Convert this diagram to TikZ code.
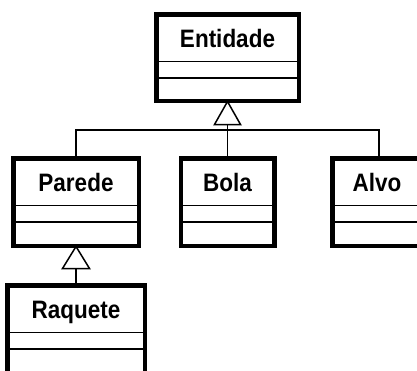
\documentclass[tikz,border=0pt]{standalone}
\usepackage{fontspec}
\setmainfont{Liberation Sans}
\usetikzlibrary{calc}
\newcommand{\cname}[1]{\scalebox{1}[1.12]{#1}}
\begin{document}
\begin{tikzpicture}[x=1pt,y=-1pt,
  classbox/.style={draw=black, line width=3pt, fill=white, rectangle, inner sep=0pt},
  classname/.style={anchor=base, inner sep=0pt, font=\fontsize{22.5}{23}\selectfont\bfseries},
  divider/.style={line width=1.5pt},
  conn/.style={line width=1.5pt},
  gen/.style={line width=1.5pt, fill=white, line join=miter}]
\useasboundingbox (0,0) rectangle (417,370);
\fill[white] (0,0) rectangle (417,370);
\clip (0,0) rectangle (417,370);
% class boxes
\node[classbox, minimum width=141pt, minimum height=85pt] (E) at (227.5,57.5) {};
\node[classname] (Et) at ($(E.north)+(0,34)$) {\cname{Entidade}};
\node[classbox, minimum width=124pt, minimum height=86pt] (P) at (76,202) {};
\node[classname] (Pt) at ($(P.north)+(0,34)$) {\cname{Parede}};
\node[classbox, minimum width=92pt, minimum height=86pt] (B) at (227.5,202) {};
\node[classname] (Bt) at ($(B.north)+(0,34)$) {\cname{Bola}};
\node[classbox, minimum width=92pt, minimum height=86pt] (A) at (379,202) {};
\node[classname] (At) at ($(A.north)+(-2,34)$) {\cname{Alvo}};
\node[classbox, minimum width=136pt, minimum height=86pt] (R) at (76,329) {};
\node[classname] (Rt) at ($(R.north)+(0,34)$) {\cname{Raquete}};
% compartment dividers
\foreach \n/\a/\b in {E/48/64.5, P/48/64.5, B/48/64.5, A/48/64.5, R/48/64.5}{
  \draw[divider] ($(\n.north west)+(0,\a)$) -- ($(\n.north east)+(0,\a)$);
  \draw[divider] ($(\n.north west)+(0,\b)$) -- ($(\n.north east)+(0,\b)$);
}
% generalization: Parede, Bola, Alvo -> Entidade
\coordinate (Ebase) at ($(E.south)+(0,23)$);
\draw[conn] (B.north) -- (Ebase);
\draw[conn] (P.north) -- ++(0,-27.5) -| (A.north);
\draw[gen] (E.south) -- ++(-13,23) -- ++(26,0) -- cycle;
% generalization: Raquete -> Parede
\coordinate (Pbase) at ($(P.south)+(0,22)$);
\draw[conn] (R.north) -- (Pbase);
\draw[gen] (P.south) -- ++(-13.5,22) -- ++(27,0) -- cycle;
% redraw box borders on top
\foreach \n in {E,P,B,A,R}{
  \draw[line width=3pt] (\n.north west) rectangle (\n.south east);
}
\end{tikzpicture}
\end{document}
